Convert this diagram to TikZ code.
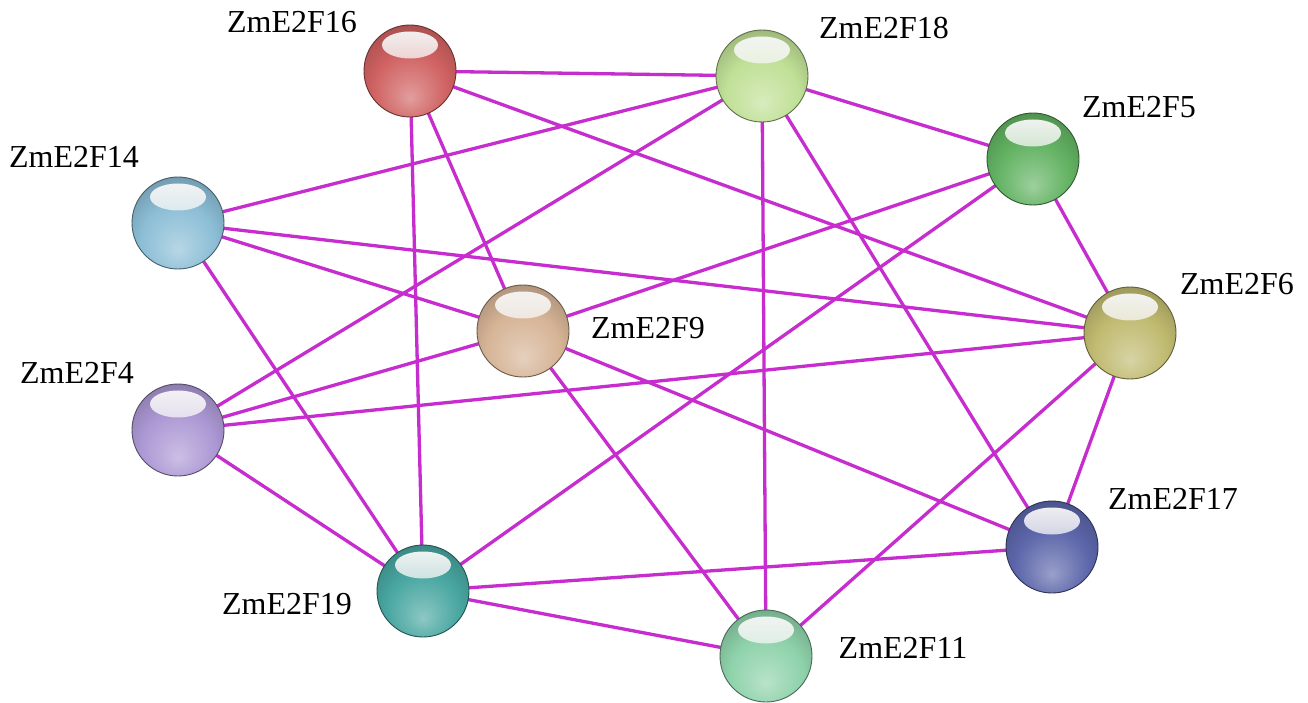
\documentclass[tikz,border=0pt]{standalone}
\usepackage{fontspec}
\setmainfont{Liberation Serif}
\usetikzlibrary{backgrounds}

% glassy sphere body: broad light glow near the bottom, darker rim towards the top
\pgfdeclareradialshading[sph]{glassball}{\pgfpoint{0bp}{-15bp}}{%
  color(0bp)=(sph!62!white);
  color(8bp)=(sph!78!white);
  color(20bp)=(sph);
  color(31bp)=(sph!84!black);
  color(38bp)=(sph!62!black);
  color(60bp)=(sph!62!black)}

\definecolor{linkc}{RGB}{198,44,206}
\definecolor{c16}{RGB}{208,98,98}
\definecolor{c18}{RGB}{192,224,150}
\definecolor{c5}{RGB}{98,178,98}
\definecolor{c14}{RGB}{140,190,214}
\definecolor{c9}{RGB}{214,180,150}
\definecolor{c6}{RGB}{192,186,112}
\definecolor{c4}{RGB}{172,152,212}
\definecolor{c17}{RGB}{92,102,170}
\definecolor{c19}{RGB}{72,166,160}
\definecolor{c11}{RGB}{142,210,170}

\tikzset{
  ball/.style={circle, inner sep=0pt, minimum size=92pt,
    /utils/exec={\colorlet{sph}{#1}},
    shade, shading=glassball, draw=sph!50!black, line width=0.9pt,
    path picture={\shade[top color=white!96!black, bottom color=sph!65!white]
      ([yshift=26pt]path picture bounding box.center)
      ellipse [x radius=28pt, y radius=13.5pt];}},
  link/.style={draw=linkc, line width=3.3pt},
  lbl/.style={font=\fontsize{32}{36}\selectfont, anchor=base, inner sep=0pt}
}

\begin{document}
\begin{tikzpicture}[x=1pt, y=1pt]
\useasboundingbox (0,0) rectangle (1308,702);

% proteins
\node[ball=c16] (n16) at (410,631) {};
\node[ball=c18] (n18) at (762,626) {};
\node[ball=c5]  (n5)  at (1033,543) {};
\node[ball=c14] (n14) at (178,479) {};
\node[ball=c9]  (n9)  at (523,371) {};
\node[ball=c6]  (n6)  at (1130,369) {};
\node[ball=c4]  (n4)  at (178,272) {};
\node[ball=c17] (n17) at (1052,155) {};
\node[ball=c19] (n19) at (423,111) {};
\node[ball=c11] (n11) at (766,46) {};

% names
\node[lbl] (t16) at (292,669) {ZmE2F16};
\node[lbl] (t18) at (884,663) {ZmE2F18};
\node[lbl] (t5)  at (1139,584) {ZmE2F5};
\node[lbl] (t14) at (74,534) {ZmE2F14};
\node[lbl] (t9)  at (648,363) {ZmE2F9};
\node[lbl] (t6)  at (1237,407) {ZmE2F6};
\node[lbl] (t4)  at (77,318) {ZmE2F4};
\node[lbl] (t17) at (1173,193) {ZmE2F17};
\node[lbl] (t19) at (287,88) {ZmE2F19};
\node[lbl] (t11) at (903,44) {ZmE2F11};

% interactions, behind the spheres
\begin{scope}[on background layer]
  \fill[white] (0,0) rectangle (1308,702);
  \foreach \a/\b in {16/18, 16/9, 16/19, 16/6,
                     18/14, 18/4, 18/5, 18/11, 18/17,
                     5/9, 5/19, 5/6,
                     14/9, 14/6, 14/19,
                     9/4, 9/17, 9/11,
                     4/6, 4/19,
                     6/17, 6/11,
                     19/17, 19/11}
    \draw[link] (n\a.center) -- (n\b.center);
\end{scope}
\end{tikzpicture}
\end{document}
